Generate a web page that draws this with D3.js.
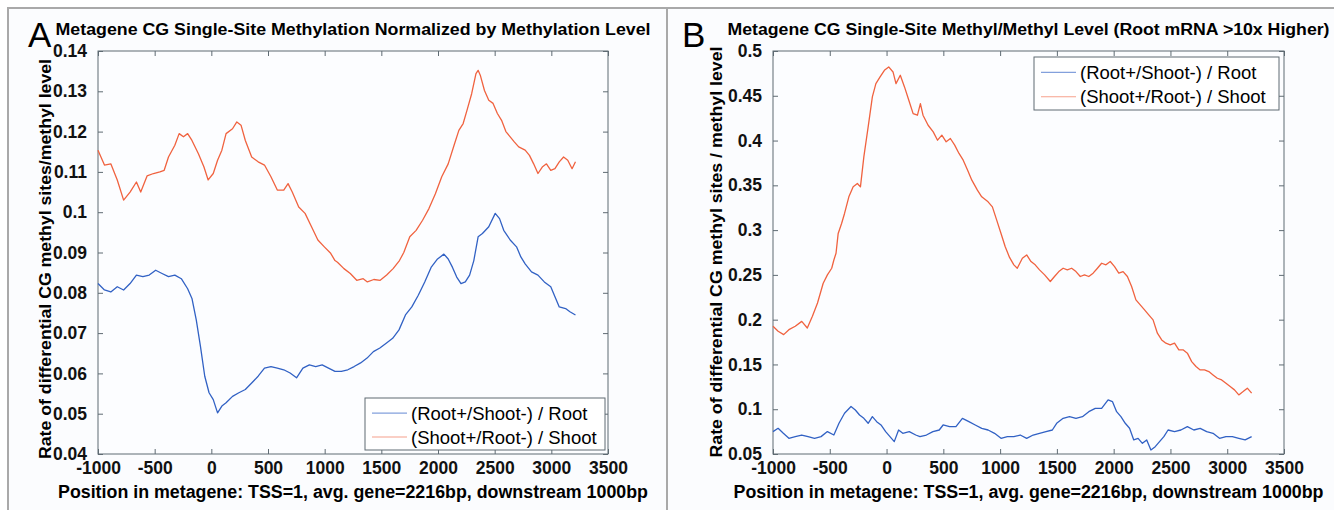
<!DOCTYPE html>
<meta charset="utf-8">
<style>

body {
  margin: 0;
  background: #fff;
}

text {
  font-family: "Liberation Sans", Arial, Helvetica, sans-serif;
}

</style>
<body>
<script src="https://cdn.jsdelivr.net/npm/d3@7"></script>
<script>

var width = 1334,
    height = 510;

// tick values for both panels
var xTicks = [-1000, -500, 0, 500, 1000, 1500, 2000, 2500, 3000, 3500];
var yTicksA = [0.04, 0.05, 0.06, 0.07, 0.08, 0.09, 0.1, 0.11, 0.12, 0.13, 0.14];
var yTicksB = [0.05, 0.1, 0.15, 0.2, 0.25, 0.3, 0.35, 0.4, 0.45, 0.5];

var seriesNames = ["(Root+/Shoot-) / Root", "(Shoot+/Root-) / Shoot"];

// panel A : [position, rate]
var rootA = [
  [-1000,0.0823],[-943,0.0807],[-887,0.0802],[-830,0.0815],[-774,0.0807],[-717,0.0823],
  [-661,0.0844],[-604,0.084],[-548,0.0844],[-491,0.0856],[-435,0.0848],[-378,0.084],
  [-322,0.0844],[-265,0.0835],[-209,0.081],[-171,0.0786],[-133,0.0733],[-96,0.0667],
  [-58,0.0593],[-20,0.0552],[17,0.0535],[55,0.0502],[93,0.0519],[130,0.0527],
  [187,0.0543],[243,0.0552],[300,0.056],[356,0.0576],[413,0.0593],[469,0.0613],
  [526,0.0617],[582,0.0613],[639,0.0609],[695,0.0601],[752,0.0589],[808,0.0613],
  [865,0.0621],[921,0.0617],[978,0.0621],[1034,0.0613],[1091,0.0605],[1147,0.0605],
  [1204,0.0609],[1260,0.0617],[1317,0.0626],[1374,0.0638],[1430,0.0654],[1487,0.0663],
  [1543,0.0675],[1600,0.0687],[1656,0.0708],[1713,0.0745],[1769,0.0765],[1826,0.0794],
  [1883,0.0827],[1939,0.0863],[1996,0.0884],[2052,0.0896],[2090,0.0884],[2128,0.0863],
  [2165,0.0839],[2203,0.0823],[2241,0.0827],[2279,0.0844],[2316,0.088],[2354,0.0939],
  [2392,0.0947],[2448,0.0964],[2505,0.0997],[2543,0.0984],[2580,0.0955],[2637,0.0931],
  [2693,0.0914],[2731,0.0889],[2769,0.0872],[2825,0.0852],[2882,0.0844],[2938,0.0827],
  [2995,0.0815],[3032,0.079],[3070,0.0765],[3126,0.0761],[3164,0.0753],[3213,0.0745]
];

var shootA = [
  [-1000,0.1154],[-943,0.1117],[-887,0.112],[-830,0.108],[-774,0.103],[-717,0.105],
  [-661,0.1075],[-623,0.105],[-567,0.109],[-510,0.1096],[-454,0.110],[-416,0.1104],
  [-378,0.1137],[-322,0.1166],[-284,0.1195],[-246,0.1187],[-209,0.1195],[-171,0.1178],
  [-114,0.1145],[-65,0.1112],[-28,0.108],[17,0.1096],[55,0.1129],[93,0.1154],
  [130,0.1195],[187,0.1207],[225,0.1224],[262,0.1216],[300,0.1178],[356,0.1137],
  [413,0.1125],[469,0.1117],[526,0.1088],[582,0.1055],[639,0.1055],[677,0.1071],
  [714,0.105],[771,0.1013],[827,0.0997],[884,0.0964],[940,0.0931],[997,0.0914],
  [1053,0.0898],[1091,0.088],[1113,0.0876],[1170,0.086],[1226,0.0848],[1283,0.0831],
  [1340,0.0835],[1377,0.0827],[1434,0.0833],[1490,0.0831],[1547,0.0844],[1604,0.086],
  [1660,0.088],[1698,0.09],[1751,0.0939],[1807,0.0955],[1864,0.098],[1920,0.1009],
  [1977,0.1046],[2033,0.1088],[2090,0.112],[2146,0.117],[2184,0.1203],[2222,0.122],
  [2260,0.1257],[2297,0.1294],[2335,0.1344],[2354,0.1352],[2373,0.134],[2410,0.1302],
  [2448,0.1278],[2486,0.127],[2524,0.1245],[2561,0.1228],[2599,0.12],[2637,0.1187],
  [2675,0.1174],[2712,0.1162],[2769,0.1154],[2807,0.1141],[2844,0.112],[2882,0.1096],
  [2920,0.1112],[2957,0.112],[2995,0.1104],[3032,0.1108],[3070,0.1125],[3108,0.1137],
  [3145,0.1129],[3183,0.1108],[3213,0.1125]
];

// panel B : [position, rate]
var rootB = [
  [-1000,0.075],[-955,0.0787],[-909,0.0731],[-860,0.0675],[-804,0.0694],[-747,0.0712],
  [-691,0.0694],[-634,0.0675],[-577,0.0694],[-521,0.075],[-464,0.0712],[-419,0.0843],
  [-370,0.0955],[-313,0.103],[-275,0.0991],[-238,0.0936],[-200,0.0898],[-162,0.0843],
  [-125,0.0917],[-87,0.0861],[-49,0.0824],[-8,0.075],[30,0.0694],[68,0.0638],
  [106,0.0768],[143,0.0731],[200,0.075],[257,0.0712],[294,0.0694],[351,0.0712],
  [408,0.075],[464,0.0768],[498,0.0824],[555,0.0806],[611,0.0806],[668,0.0898],
  [725,0.0861],[781,0.0824],[838,0.0787],[894,0.0768],[951,0.0731],[1008,0.0675],
  [1064,0.0694],[1121,0.0694],[1177,0.0712],[1234,0.0675],[1291,0.0712],[1347,0.0731],
  [1404,0.075],[1460,0.0768],[1498,0.0843],[1555,0.0898],[1611,0.0917],[1668,0.0898],
  [1725,0.0917],[1781,0.0973],[1838,0.101],[1894,0.101],[1951,0.1104],[1989,0.1086],
  [2026,0.0973],[2064,0.0917],[2102,0.0843],[2140,0.0787],[2177,0.0657],[2215,0.0675],
  [2253,0.0619],[2291,0.0657],[2328,0.0545],[2366,0.0582],[2404,0.0638],[2442,0.0694],
  [2479,0.0768],[2536,0.075],[2592,0.0768],[2649,0.0806],[2706,0.0768],[2762,0.0787],
  [2819,0.075],[2875,0.0731],[2932,0.0675],[2989,0.0694],[3045,0.0694],[3102,0.0675],
  [3158,0.0657],[3215,0.0694]
];

var shootB = [
  [-1000,0.1926],[-955,0.187],[-906,0.1833],[-860,0.1888],[-804,0.1926],[-747,0.1981],
  [-698,0.1907],[-653,0.2037],[-608,0.2186],[-558,0.2407],[-521,0.25],[-483,0.2574],
  [-464,0.2666],[-445,0.2742],[-426,0.2963],[-396,0.3074],[-370,0.3186],[-332,0.3372],
  [-294,0.3483],[-257,0.352],[-230,0.3483],[-200,0.3818],[-162,0.4152],[-125,0.4487],
  [-94,0.4636],[-57,0.471],[-19,0.4784],[19,0.4822],[57,0.4766],[83,0.4636],
  [121,0.4729],[158,0.4599],[196,0.445],[234,0.4301],[272,0.4283],[298,0.4413],
  [321,0.4283],[366,0.4171],[411,0.4097],[449,0.4004],[487,0.406],[525,0.3986],
  [562,0.4023],[600,0.3949],[638,0.3856],[675,0.3781],[713,0.367],[751,0.3558],
  [800,0.3446],[838,0.3372],[894,0.3316],[932,0.326],[970,0.3112],[1008,0.2963],
  [1045,0.2814],[1083,0.2695],[1121,0.2612],[1151,0.2574],[1196,0.2686],[1234,0.2723],
  [1272,0.2649],[1309,0.2612],[1347,0.2556],[1392,0.25],[1442,0.2426],[1479,0.2482],
  [1517,0.2537],[1555,0.2574],[1592,0.2556],[1630,0.2574],[1668,0.2537],[1706,0.2482],
  [1743,0.25],[1781,0.2482],[1819,0.2519],[1857,0.2574],[1894,0.263],[1932,0.2612],
  [1970,0.2649],[2008,0.2593],[2045,0.2519],[2083,0.2537],[2121,0.2482],[2158,0.237],
  [2196,0.2221],[2234,0.2165],[2272,0.2109],[2309,0.2053],[2347,0.1998],[2385,0.1849],
  [2423,0.1774],[2460,0.1737],[2498,0.1718],[2536,0.1737],[2574,0.1663],[2611,0.1663],
  [2649,0.1626],[2687,0.1532],[2725,0.1477],[2762,0.1439],[2800,0.1439],[2838,0.142],
  [2875,0.1383],[2913,0.1346],[2951,0.1327],[2989,0.129],[3026,0.1253],[3064,0.1216],
  [3102,0.116],[3140,0.1197],[3177,0.1235],[3215,0.1179]
];

var blue = "#3161c4",
    orange = "#f0623f",
    boxColor = "#5f6b73";

var svg = d3.select("body").append("svg")
    .attr("width", width)
    .attr("height", height);

// outer frame
svg.append("rect")
    .attr("x", 8).attr("y", 8)
    .attr("width", width + 10).attr("height", height + 10)
    .style("fill", "#fbfcfe")
    .style("stroke", "#a9a9a9")
    .style("stroke-width", 2);

svg.append("line")
    .attr("x1", 667).attr("x2", 667)
    .attr("y1", 8).attr("y2", height)
    .style("stroke", "#a9a9a9")
    .style("stroke-width", 2);

var panels = [
  {
    letter: "A", lx: 28,
    left: 98, right: 608, top: 51, bottom: 454,
    yDomain: [0.04, 0.14], yTicks: yTicksA,
    title: "Metagene CG Single-Site Methylation Normalized by Methylation Level",
    titleLen: 595,
    ylabel: "Rate of differential CG methyl sites/methyl level",
    ylabelX: 51, ylabelY: 259, ylabelLen: 400,
    series: [rootA, shootA],
    legend: {x: 365, y: 398, w: 240, h: 52}
  },
  {
    letter: "B", lx: 682,
    left: 773, right: 1284, top: 51, bottom: 454,
    yDomain: [0.05, 0.5], yTicks: yTicksB,
    title: "Metagene CG Single-Site Methyl/Methyl Level (Root mRNA >10x Higher)",
    titleLen: 602,
    ylabel: "Rate of differential CG methyl sites / methyl level",
    ylabelX: 722, ylabelY: 252, ylabelLen: 411,
    series: [rootB, shootB],
    legend: {x: 1034, y: 57, w: 245, h: 53}
  }
];

panels.forEach(drawPanel);

function drawPanel(p) {
  var x = d3.scaleLinear().domain([-1000, 3500]).range([p.left, p.right]),
      y = d3.scaleLinear().domain(p.yDomain).range([p.bottom, p.top]);

  var g = svg.append("g");

  g.append("text")
      .attr("x", p.lx).attr("y", 47)
      .style("font-size", "35px")
      .text(p.letter);

  g.append("text")
      .attr("x", (p.left + p.right) / 2).attr("y", 35)
      .attr("text-anchor", "middle")
      .attr("textLength", p.titleLen)
      .attr("lengthAdjust", "spacingAndGlyphs")
      .style("font-size", "16px")
      .style("font-weight", "bold")
      .text(p.title);

  g.append("rect")
      .attr("x", p.left).attr("y", p.top)
      .attr("width", p.right - p.left).attr("height", p.bottom - p.top)
      .style("fill", "#fcfdff");

  // axes, ticks pointing inward like matlab
  var bottomAxis = d3.axisBottom(x).tickValues(xTicks).tickSizeInner(-5).tickSizeOuter(0).tickPadding(12)
      .tickFormat(function(d) { return String(d); });
  var topAxis = d3.axisTop(x).tickValues(xTicks).tickSizeInner(-5).tickSizeOuter(0).tickFormat("");
  var leftAxis = d3.axisLeft(y).tickValues(p.yTicks).tickSizeInner(-5).tickSizeOuter(0).tickPadding(11)
      .tickFormat(function(d) { return String(+d.toFixed(2)); });
  var rightAxis = d3.axisRight(y).tickValues(p.yTicks).tickSizeInner(-5).tickSizeOuter(0).tickFormat("");

  var gx = g.append("g").attr("transform", "translate(0," + p.bottom + ")").call(bottomAxis);
  g.append("g").attr("transform", "translate(0," + p.top + ")").call(topAxis);
  var gy = g.append("g").attr("transform", "translate(" + p.left + ",0)").call(leftAxis);
  g.append("g").attr("transform", "translate(" + p.right + ",0)").call(rightAxis);

  g.selectAll(".domain").remove();
  g.selectAll(".tick line").style("stroke", boxColor);
  gx.selectAll(".tick text").attr("dy", "0.71em").attr("y", 8);
  g.selectAll(".tick text")
      .style("fill", "#111")
      .style("font-family", "'Liberation Sans', Arial, sans-serif")
      .style("font-size", "17.5px")
      .style("font-weight", "bold");

  g.append("rect")
      .attr("x", p.left).attr("y", p.top)
      .attr("width", p.right - p.left).attr("height", p.bottom - p.top)
      .style("fill", "none")
      .style("stroke", boxColor)
      .style("stroke-width", 1);

  g.append("text")
      .attr("x", (p.left + p.right) / 2).attr("y", 498)
      .attr("text-anchor", "middle")
      .attr("textLength", 590)
      .attr("lengthAdjust", "spacingAndGlyphs")
      .style("font-size", "17.5px")
      .style("font-weight", "bold")
      .text("Position in metagene: TSS=1, avg. gene=2216bp, downstream 1000bp");

  g.append("text")
      .attr("transform", "translate(" + p.ylabelX + "," + p.ylabelY + ") rotate(-90)")
      .attr("text-anchor", "middle")
      .attr("textLength", p.ylabelLen)
      .attr("lengthAdjust", "spacingAndGlyphs")
      .style("font-size", "16.5px")
      .style("font-weight", "bold")
      .text(p.ylabel);

  var line = d3.line()
      .x(function(d) { return x(d[0]); })
      .y(function(d) { return y(d[1]); });

  var colors = [blue, orange];

  g.selectAll(".series")
      .data(p.series)
    .enter().append("path")
      .attr("class", "series")
      .attr("d", line)
      .style("fill", "none")
      .style("stroke", function(d, i) { return colors[i]; })
      .style("stroke-width", 1.3)
      .style("stroke-linejoin", "round");

  // legend
  var L = p.legend;
  var lg = g.append("g").attr("transform", "translate(" + L.x + "," + L.y + ")");
  lg.append("rect")
      .attr("width", L.w).attr("height", L.h)
      .style("fill", "#fff")
      .style("stroke", boxColor);

  var rowY = [L.h * 0.29, L.h * 0.75];
  seriesNames.forEach(function(name, i) {
    lg.append("line")
        .attr("x1", 7).attr("x2", 42)
        .attr("y1", rowY[i]).attr("y2", rowY[i])
        .style("stroke", colors[i])
        .style("stroke-opacity", 0.6)
        .style("stroke-width", 1.2);
    lg.append("text")
        .attr("x", 46).attr("y", rowY[i])
        .attr("dy", "0.36em")
        .style("font-size", "18.5px")
        .text(name);
  });
}

</script>
